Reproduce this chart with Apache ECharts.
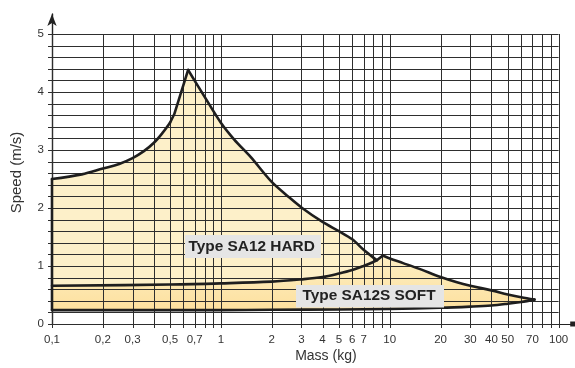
<!DOCTYPE html>
<html><head><meta charset="utf-8">
<script src="https://cdn.jsdelivr.net/npm/echarts@6/dist/echarts.min.js"></script>
<style>html,body{margin:0;padding:0;background:#fff}#c{width:575px;height:368px}</style>
</head><body><div id="c"></div>
<script>
// ---- data ----
const hardMass  = [0.1, 0.15, 0.2, 0.25, 0.3, 0.35, 0.4, 0.45, 0.5, 0.53, 0.64, 0.8, 1, 1.2, 1.5, 2, 2.5, 3, 4, 5, 6, 7, 7.8, 8.4];
const hardSpeed = [2.5, 2.58, 2.68, 2.76, 2.86, 2.98, 3.12, 3.29, 3.47, 3.62, 4.38, 3.92, 3.47, 3.18, 2.88, 2.45, 2.2, 2.01, 1.76, 1.6, 1.46, 1.28, 1.17, 1.1];
const softTopMass  = [0.1, 0.5, 1, 2, 3, 4, 5, 6, 7, 8, 8.4, 9.1, 10, 12, 15, 20, 25, 30, 40, 50, 60, 72];
const softTopSpeed = [0.66, 0.68, 0.7, 0.73, 0.77, 0.81, 0.87, 0.93, 1.0, 1.07, 1.1, 1.18, 1.13, 1.05, 0.95, 0.81, 0.72, 0.66, 0.58, 0.51, 0.46, 0.42];
const softBottomMass  = [72, 60, 50, 40, 30, 20, 10, 5, 2, 1, 0.1];
const softBottomSpeed = [0.42, 0.38, 0.35, 0.32, 0.30, 0.28, 0.26, 0.25, 0.245, 0.24, 0.24];
const xGridValues = [0.1,0.2,0.3,0.4,0.5,0.6,0.7,0.8,0.9,1,2,3,4,5,6,7,8,9,10,20,30,40,50,60,70,80,90,100];
const yGridValues = [0,0.2,0.4,0.6,0.8,1,1.2,1.4,1.6,1.8,2,2.2,2.4,2.6,2.8,3,3.2,3.4,3.6,3.8,4,4.2,4.4,4.6,4.8,5];
const xTickValues = [0.1,0.2,0.3,0.5,0.7,1,2,3,4,5,6,7,10,20,30,40,50,70,100];
const xTickLabels = ['0,1','0,2','0,3','0,5','0,7','1','2','3','4','5','6','7','10','20','30','40','50','70','100'];
const seriesLabels = ['Type SA12 HARD', 'Type SA12S SOFT'];

const zip = (a, b) => a.map((v, i) => [v, b[i]]);
const hardPts = zip(hardMass, hardSpeed);
const softTop = zip(softTopMass, softTopSpeed);
const softBottom = zip(softBottomMass, softBottomSpeed);
const hardEnd = hardMass[hardMass.length - 1];

const FONT = '"Liberation Sans", Arial, Helvetica, sans-serif';
const LINE = '#1e1e1e';
const GRID = '#2e2e2e';

const chart = echarts.init(document.getElementById('c'), null, {renderer: 'canvas'});

// index of local maxima (peaks) used to split the outlines into smooth pieces
function peakIndex(arr) { let k = 0; arr.forEach((v, i) => { if (v > arr[k]) k = i; }); return k; }

function fillRender(params, api) {
  if (params.dataIndex !== 0) return;
  const c = p => api.coord(p);
  const hardFill = hardPts.concat(softTop.filter(p => p[0] <= hardEnd).reverse()).map(c);
  const softFill = softTop.concat(softBottom).map(c);
  return {type: 'group', children: [
    {type: 'polygon', shape: {points: hardFill}, style: {fill: '#fdf0c9', stroke: null}},
    {type: 'polygon', shape: {points: softFill}, style: {
      fill: new echarts.graphic.LinearGradient(0, 0, 0, 1, [
        {offset: 0, color: '#fdefc4'}, {offset: 1, color: '#fde09e'}]), stroke: null}}
  ]};
}
function outlineRender(params, api) {
  if (params.dataIndex !== 0) return;
  const c = p => api.coord(p);
  const st = {stroke: LINE, lineWidth: 2.6, fill: null, lineJoin: 'round', lineCap: 'round'};
  const hp = peakIndex(hardSpeed);
  const sp = peakIndex(softTopSpeed);
  const leftBottom = softBottom[softBottom.length - 1];
  const segs = [
    {pts: [leftBottom, hardPts[0]], smooth: 0},
    {pts: hardPts.slice(0, hp - 1), smooth: 0.35},
    {pts: hardPts.slice(hp - 2, hp + 1), smooth: 0},
    {pts: hardPts.slice(hp), smooth: 0.3},
    {pts: softTop.slice(0, sp + 1), smooth: 0.35},
    {pts: softTop.slice(sp), smooth: 0.35},
    {pts: softBottom, smooth: 0.35}
  ];
  return {type: 'group', children: segs.map(s => ({
    type: 'polyline', shape: {points: s.pts.map(c), smooth: s.smooth}, style: st
  }))};
}
function vGridRender(params, api) {
  const v = api.value(0);
  const p0 = api.coord([v, 0]);
  const p1 = api.coord([v, 5]);
  const x = Math.round(p0[0]) + 0.5;
  return {type: 'line', shape: {x1: x, y1: p0[1] + 4, x2: x, y2: p1[1]}, style: {stroke: GRID, lineWidth: 1}};
}
function hGridRender(params, api) {
  const v = api.value(1);
  const p0 = api.coord([0.1, v]);
  const p1 = api.coord([100, v]);
  const y = Math.round(p0[1]) + 0.5;
  return {type: 'line', shape: {x1: p0[0] - 4, y1: y, x2: p1[0], y2: y}, style: {stroke: GRID, lineWidth: 1}};
}
function xLabelRender(params, api) {
  const p = api.coord([api.value(0), 0]);
  return {type: 'text', x: p[0], y: p[1] + 9.5, style: {
    text: xTickLabels[params.dataIndex], align: 'center', verticalAlign: 'top',
    font: '11.5px ' + FONT, fill: '#333'}};
}

chart.setOption({
  animation: false,
  backgroundColor: '#fff',
  grid: {left: 52, right: 2.3, top: 14, bottom: 42.5},
  xAxis: {
    type: 'log', logBase: 10, min: 0.1, max: 121.2,
    name: 'Mass (kg)', nameLocation: 'middle', nameGap: 25,
    nameTextStyle: {fontSize: 14, color: '#333', fontFamily: FONT, padding: [0, 0, 0, 27]},
    axisLine: {show: true, onZero: false, symbol: ['none', 'rect'], symbolSize: [5, 5], lineStyle: {color: '#222', width: 1.2}},
    axisTick: {show: false}, axisLabel: {show: false}, splitLine: {show: false}, minorTick: {show: false}
  },
  yAxis: {
    type: 'value', min: 0, max: 5.345, interval: 1,
    name: 'Speed (m/s)', nameLocation: 'middle', nameGap: 28,
    nameTextStyle: {fontSize: 15, color: '#333', fontFamily: FONT, padding: [0, 7, 0, 0]},
    axisLine: {show: true, symbol: ['none', 'arrow'], symbolSize: [7, 12], lineStyle: {color: '#222', width: 1.4}},
    axisTick: {show: false}, splitLine: {show: false},
    axisLabel: {margin: 8, fontSize: 11.5, color: '#333', fontFamily: FONT, showMaxLabel: false,
      formatter: v => (Math.abs(v - Math.round(v)) < 1e-9 ? String(Math.round(v)) : '')}
  },
  series: [
    {type: 'custom', silent: true, z: 1, data: [[0.1, 0]], renderItem: fillRender},
    {type: 'custom', silent: true, z: 2, data: xGridValues.map(v => [v, 0]), renderItem: vGridRender},
    {type: 'custom', silent: true, z: 2, data: yGridValues.map(v => [0.1, v]), renderItem: hGridRender},
    {type: 'custom', silent: true, z: 3, data: [[0.1, 0]], renderItem: outlineRender},
    {type: 'custom', silent: true, z: 3, data: xTickValues.map(v => [v, 0]), renderItem: xLabelRender}
  ],
  graphic: [
    {type: 'rect', z: 100, shape: {x: 185, y: 235, width: 136, height: 23}, style: {fill: '#e5e5e5'}},
    {type: 'text', z: 101, x: 188.5, y: 246.6, style: {text: seriesLabels[0], font: 'bold 15.4px ' + FONT, fill: '#222', verticalAlign: 'middle'}},
    {type: 'rect', z: 100, shape: {x: 296, y: 285, width: 148, height: 22.5}, style: {fill: '#e5e5e5'}},
    {type: 'text', z: 101, x: 302.5, y: 296.2, style: {text: seriesLabels[1], font: 'bold 15.4px ' + FONT, fill: '#222', verticalAlign: 'middle'}}
  ]
});
</script>
</body></html>
